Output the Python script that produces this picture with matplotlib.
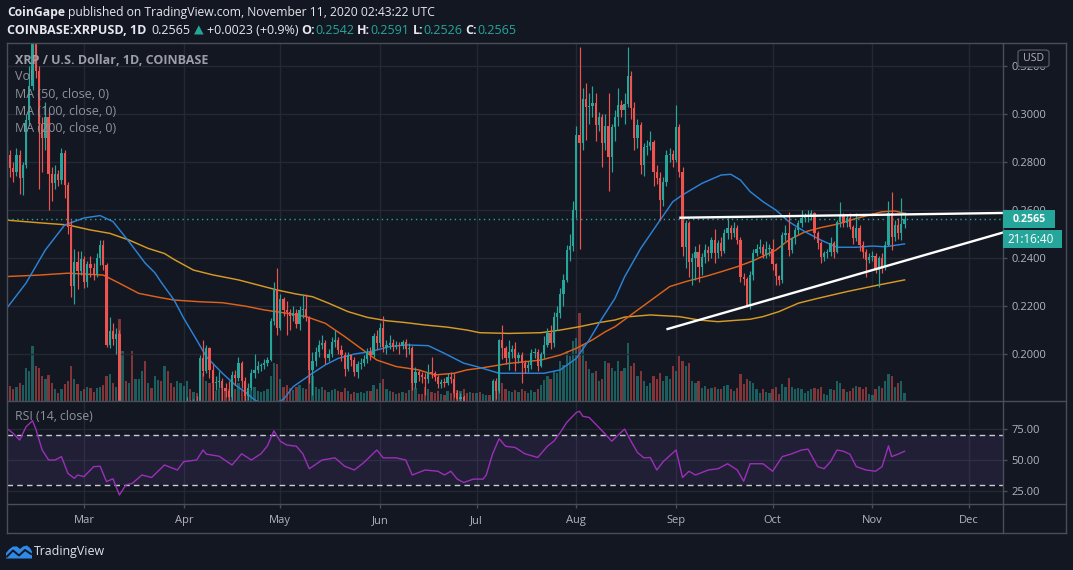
import matplotlib
matplotlib.use("Agg")
import matplotlib.pyplot as plt
import matplotlib.dates as mdates
from matplotlib.patches import Rectangle, FancyBboxPatch, Polygon
from matplotlib.lines import Line2D
from matplotlib.ticker import FuncFormatter
import numpy as np
import pandas as pd

# ---------------- data ----------------
start_date = "2020-02-06"
first_open = 0.2720
close = [
 0.2830, 0.2775, 0.2760, 0.2830, 0.2735, 0.2790, 0.2975, 0.3120, 0.3320, 0.3180,
 0.2960, 0.2900, 0.2990, 0.2750, 0.2715, 0.2750, 0.2725, 0.2840, 0.2705, 0.2530,
 0.2285, 0.2385, 0.2345, 0.2395, 0.2300, 0.2375, 0.2360, 0.2335, 0.2400, 0.2455,
 0.2370, 0.2040, 0.2095, 0.2065, 0.2085, 0.1460, 0.1600, 0.1500, 0.1530, 0.1420,
 0.1460, 0.1480, 0.1610, 0.1550, 0.1600, 0.1520, 0.1570, 0.1630, 0.1610, 0.1630,
 0.1560, 0.1520, 0.1460, 0.1620, 0.1730, 0.1750, 0.1780, 0.1775, 0.1795, 0.1770,
 0.1985, 0.1930, 0.2025, 0.1935, 0.1880, 0.1885, 0.1890, 0.1860, 0.1845, 0.1820,
 0.1915, 0.1900, 0.1965, 0.1890, 0.1825, 0.1860, 0.1920, 0.1935, 0.1950, 0.1955,
 0.1965, 0.1975, 0.2140, 0.2270, 0.2110, 0.2230, 0.2185, 0.2175, 0.2160, 0.2170,
 0.2125, 0.2185, 0.2190, 0.2157, 0.1935, 0.1970, 0.2010, 0.2040, 0.2045, 0.1985,
 0.2000, 0.2053, 0.2060, 0.2018, 0.1995, 0.1940, 0.1995, 0.1975, 0.1925, 0.1960,
 0.1965, 0.1980, 0.2010, 0.1995, 0.2075, 0.2045, 0.2110, 0.2030, 0.2040, 0.2048,
 0.2030, 0.2040, 0.2035, 0.2052, 0.2020, 0.2025, 0.1880, 0.1925, 0.1915, 0.1905,
 0.1895, 0.1928, 0.1920, 0.1905, 0.1875, 0.1886, 0.1880, 0.1905, 0.1895, 0.1840,
 0.1815, 0.1820, 0.1780, 0.1760, 0.1775, 0.1755, 0.1770, 0.1735, 0.1745, 0.1760,
 0.1750, 0.1890, 0.1845, 0.2060, 0.2025, 0.1985, 0.2010, 0.2020, 0.1985, 0.1998,
 0.1963, 0.1942, 0.1955, 0.2005, 0.2010, 0.1950, 0.2000, 0.2040, 0.2088, 0.2045,
 0.2155, 0.2170, 0.2250, 0.2310, 0.2435, 0.2450, 0.2600, 0.2915, 0.2880, 0.3063,
 0.3032, 0.3035, 0.3046, 0.2955, 0.2990, 0.2880, 0.2950, 0.2823, 0.2948, 0.2990,
 0.3040, 0.3020, 0.3045, 0.3160, 0.3025, 0.2900, 0.2955, 0.2790, 0.2865, 0.2870,
 0.2885, 0.2760, 0.2735, 0.2645, 0.2720, 0.2830, 0.2835, 0.2810, 0.2948, 0.2760,
 0.2448, 0.2545, 0.2386, 0.2400, 0.2427, 0.2365, 0.2406, 0.2434, 0.2420, 0.2476,
 0.2420, 0.2462, 0.2430, 0.2504, 0.2525, 0.2504, 0.2525, 0.2476, 0.2323, 0.2315,
 0.2205, 0.2330, 0.2420, 0.2440, 0.2445, 0.2415, 0.2440, 0.2440, 0.2375, 0.2325,
 0.2308, 0.2497, 0.2505, 0.2435, 0.2483, 0.2518, 0.2545, 0.2566, 0.2573, 0.2580,
 0.2587, 0.2504, 0.2462, 0.2407, 0.2420, 0.2427, 0.2462, 0.2427, 0.2552, 0.2580,
 0.2545, 0.2566, 0.2531, 0.2483, 0.2525, 0.2455, 0.2427, 0.2393, 0.2407, 0.2410,
 0.2351, 0.2400, 0.2365, 0.2455, 0.2587, 0.2490, 0.2539, 0.2504, 0.2542, 0.2565]
high = [
 0.2880, 0.2850, 0.2800, 0.2860, 0.2850, 0.2800, 0.3000, 0.3200, 0.3380, 0.3460,
 0.3200, 0.2990, 0.3050, 0.3010, 0.2780, 0.2790, 0.2770, 0.2860, 0.2850, 0.2720,
 0.2560, 0.2440, 0.2430, 0.2430, 0.2410, 0.2390, 0.2410, 0.2380, 0.2420, 0.2475,
 0.2475, 0.2380, 0.2155, 0.2130, 0.2110, 0.2100, 0.1680, 0.1620, 0.1600, 0.1540,
 0.1500, 0.1520, 0.1660, 0.1700, 0.1640, 0.1620, 0.1600, 0.1680, 0.1680, 0.1650,
 0.1650, 0.1570, 0.1530, 0.1640, 0.1760, 0.1780, 0.1820, 0.1810, 0.1815, 0.1825,
 0.1995, 0.2060, 0.2040, 0.2030, 0.1960, 0.1910, 0.1930, 0.1900, 0.1880, 0.1890,
 0.1930, 0.1935, 0.1990, 0.1970, 0.1905, 0.1880, 0.1940, 0.2000, 0.1970, 0.1965,
 0.1980, 0.1990, 0.2150, 0.2300, 0.2360, 0.2250, 0.2240, 0.2220, 0.2190, 0.2200,
 0.2190, 0.2200, 0.2250, 0.2250, 0.2160, 0.2010, 0.2030, 0.2060, 0.2080, 0.2060,
 0.2020, 0.2070, 0.2100, 0.2070, 0.2040, 0.2010, 0.2010, 0.2000, 0.1990, 0.1970,
 0.1985, 0.1995, 0.2025, 0.2030, 0.2090, 0.2100, 0.2130, 0.2160, 0.2060, 0.2080,
 0.2065, 0.2055, 0.2050, 0.2060, 0.2065, 0.2045, 0.2035, 0.1945, 0.1935, 0.1925,
 0.1920, 0.1960, 0.1990, 0.1930, 0.1915, 0.1895, 0.1900, 0.1920, 0.1925, 0.1920,
 0.1850, 0.1840, 0.1830, 0.1790, 0.1790, 0.1790, 0.1790, 0.1780, 0.1760, 0.1775,
 0.1770, 0.1895, 0.1900, 0.2065, 0.2120, 0.2035, 0.2060, 0.2040, 0.2050, 0.2010,
 0.2010, 0.1975, 0.1970, 0.2020, 0.2025, 0.2020, 0.2010, 0.2075, 0.2110, 0.2120,
 0.2175, 0.2200, 0.2275, 0.2335, 0.2455, 0.2500, 0.2640, 0.2950, 0.3282, 0.3110,
 0.3130, 0.3090, 0.3120, 0.3090, 0.3010, 0.3000, 0.3000, 0.3090, 0.2960, 0.3020,
 0.3110, 0.3060, 0.3090, 0.3280, 0.3180, 0.3050, 0.2980, 0.2970, 0.2880, 0.2895,
 0.2930, 0.2895, 0.2790, 0.2760, 0.2740, 0.2850, 0.2860, 0.2850, 0.3040, 0.2960,
 0.2780, 0.2560, 0.2555, 0.2420, 0.2450, 0.2460, 0.2420, 0.2460, 0.2450, 0.2490,
 0.2520, 0.2475, 0.2490, 0.2520, 0.2570, 0.2540, 0.2550, 0.2540, 0.2490, 0.2340,
 0.2320, 0.2345, 0.2440, 0.2460, 0.2480, 0.2460, 0.2470, 0.2460, 0.2480, 0.2380,
 0.2330, 0.2510, 0.2540, 0.2595, 0.2490, 0.2530, 0.2560, 0.2600, 0.2590, 0.2600,
 0.2600, 0.2595, 0.2515, 0.2470, 0.2430, 0.2440, 0.2490, 0.2470, 0.2560, 0.2636,
 0.2590, 0.2580, 0.2590, 0.2540, 0.2590, 0.2540, 0.2470, 0.2440, 0.2420, 0.2430,
 0.2420, 0.2410, 0.2420, 0.2470, 0.2640, 0.2678, 0.2560, 0.2570, 0.2651, 0.2591]
low = [
 0.2690, 0.2740, 0.2720, 0.2745, 0.2670, 0.2665, 0.2775, 0.2950, 0.3100, 0.3150,
 0.2690, 0.2760, 0.2850, 0.2600, 0.2640, 0.2690, 0.2700, 0.2710, 0.2650, 0.2500,
 0.2240, 0.2210, 0.2270, 0.2330, 0.2275, 0.2280, 0.2320, 0.2310, 0.2320, 0.2370,
 0.2350, 0.2030, 0.2025, 0.2040, 0.2000, 0.1380, 0.1150, 0.1480, 0.1470, 0.1370,
 0.1400, 0.1430, 0.1470, 0.1500, 0.1520, 0.1490, 0.1500, 0.1560, 0.1580, 0.1590,
 0.1550, 0.1480, 0.1440, 0.1450, 0.1610, 0.1680, 0.1730, 0.1740, 0.1750, 0.1750,
 0.1760, 0.1910, 0.1920, 0.1900, 0.1810, 0.1850, 0.1860, 0.1800, 0.1820, 0.1800,
 0.1790, 0.1870, 0.1890, 0.1860, 0.1800, 0.1810, 0.1850, 0.1900, 0.1920, 0.1930,
 0.1940, 0.1950, 0.1970, 0.2120, 0.2080, 0.2100, 0.2160, 0.2080, 0.2100, 0.2140,
 0.2110, 0.2100, 0.2150, 0.2140, 0.1880, 0.1830, 0.1950, 0.1990, 0.2020, 0.1960,
 0.1970, 0.1990, 0.2030, 0.2000, 0.1970, 0.1910, 0.1930, 0.1950, 0.1910, 0.1900,
 0.1940, 0.1950, 0.1965, 0.1975, 0.1990, 0.2020, 0.2030, 0.2010, 0.2000, 0.2020,
 0.2015, 0.2020, 0.2000, 0.2020, 0.1990, 0.2000, 0.1850, 0.1860, 0.1890, 0.1880,
 0.1830, 0.1880, 0.1900, 0.1890, 0.1860, 0.1860, 0.1865, 0.1870, 0.1880, 0.1820,
 0.1780, 0.1790, 0.1760, 0.1740, 0.1750, 0.1740, 0.1740, 0.1720, 0.1725, 0.1735,
 0.1730, 0.1745, 0.1815, 0.1840, 0.1980, 0.1960, 0.1935, 0.1985, 0.1930, 0.1965,
 0.1880, 0.1920, 0.1925, 0.1940, 0.1985, 0.1930, 0.1945, 0.1985, 0.2030, 0.2020,
 0.2030, 0.2100, 0.2150, 0.2200, 0.2300, 0.2390, 0.2430, 0.2570, 0.2440, 0.2850,
 0.2895, 0.2960, 0.2990, 0.2890, 0.2930, 0.2780, 0.2850, 0.2680, 0.2760, 0.2890,
 0.2950, 0.2990, 0.2960, 0.3030, 0.2980, 0.2850, 0.2860, 0.2750, 0.2745, 0.2830,
 0.2850, 0.2700, 0.2710, 0.2560, 0.2620, 0.2700, 0.2800, 0.2780, 0.2800, 0.2740,
 0.2410, 0.2360, 0.2320, 0.2290, 0.2310, 0.2300, 0.2330, 0.2380, 0.2390, 0.2400,
 0.2380, 0.2400, 0.2410, 0.2420, 0.2480, 0.2480, 0.2490, 0.2460, 0.2300, 0.2290,
 0.2195, 0.2190, 0.2310, 0.2410, 0.2420, 0.2400, 0.2400, 0.2410, 0.2350, 0.2290,
 0.2290, 0.2295, 0.2470, 0.2410, 0.2420, 0.2460, 0.2500, 0.2530, 0.2550, 0.2550,
 0.2560, 0.2480, 0.2440, 0.2380, 0.2390, 0.2400, 0.2410, 0.2400, 0.2420, 0.2530,
 0.2530, 0.2530, 0.2520, 0.2460, 0.2470, 0.2430, 0.2400, 0.2320, 0.2380, 0.2390,
 0.2340, 0.2282, 0.2340, 0.2350, 0.2450, 0.2435, 0.2470, 0.2480, 0.2478, 0.2526]
volume_m = [
 22, 15, 12, 14, 18, 16, 33, 30, 55, 35,
 33, 25, 22, 26, 18, 12, 8, 12, 17, 20,
 35, 22, 17, 10, 12, 14, 13, 9, 13, 14,
 16, 25, 27, 18, 14, 82, 50, 20, 18, 50,
 22, 22, 30, 40, 18, 13, 25, 21, 20, 35,
 30, 18, 14, 20, 18, 15, 20, 12, 9, 8,
 40, 28, 20, 18, 22, 10, 12, 15, 10, 12,
 22, 12, 18, 12, 15, 10, 12, 14, 10, 9,
 10, 12, 25, 38, 37, 22, 14, 16, 13, 11,
 14, 16, 13, 12, 35, 25, 14, 12, 14, 11,
 9, 11, 12, 10, 9, 13, 10, 7, 9, 8,
 9, 8, 10, 10, 16, 12, 18, 22, 12, 10,
 9, 7, 8, 9, 8, 11, 22, 13, 7, 7,
 14, 12, 9, 8, 10, 7, 6, 10, 8, 12,
 11, 10, 12, 8, 9, 8, 8, 9, 7, 6,
 6, 20, 12, 21, 18, 12, 10, 9, 11, 9,
 12, 10, 8, 11, 9, 12, 16, 21, 25, 22,
 30, 28, 40, 36, 50, 45, 60, 63, 88, 57,
 40, 32, 28, 30, 20, 22, 40, 38, 33, 30,
 40, 30, 33, 58, 35, 38, 25, 30, 20, 15,
 18, 25, 22, 28, 20, 25, 22, 35, 30, 45,
 40, 35, 38, 20, 18, 20, 13, 15, 12, 13,
 14, 12, 12, 15, 16, 12, 10, 13, 27, 17,
 22, 20, 18, 12, 8, 12, 9, 8, 12, 14,
 7, 17, 14, 23, 14, 12, 13, 12, 8, 10,
 12, 13, 12, 14, 7, 6, 12, 11, 20, 18,
 12, 9, 10, 13, 15, 14, 12, 14, 7, 6,
 12, 15, 13, 20, 27, 25, 14, 18, 20, 8]

ma50_dates = ["02-06","02-12","02-18","02-24","03-01","03-06","03-10","03-15","03-20","03-23",
              "03-25","03-29","04-01","04-05","04-08","04-13","04-17","04-20","04-23","04-26",
              "04-29","05-02","05-05","05-11","05-15","05-19","05-24","05-29","06-04","06-09",
              "06-16","06-21","06-27","07-01","07-08","07-15","07-22","07-27","08-01","08-05",
              "08-09","08-13","08-16","08-21","08-26","08-31","09-03","09-09","09-15","09-18",
              "09-21","09-24","09-28","10-02","10-06","10-11","10-16","10-21","10-27","11-01",
              "11-05","11-11"]
ma50_vals = [0.2192,0.2297,0.2435,0.2539,0.2568,0.2578,0.2553,0.2469,0.2380,0.2340,
             0.2300,0.2226,0.2150,0.2060,0.1990,0.1921,0.1872,0.1844,0.1810,0.1792,
             0.1795,0.1812,0.1865,0.1921,0.1956,0.1983,0.2001,0.2011,0.2032,0.2039,
             0.2036,0.2004,0.1963,0.1949,0.1921,0.1921,0.1921,0.1935,0.1983,0.2060,
             0.2150,0.2233,0.2323,0.2441,0.2539,0.2636,0.2664,0.2712,0.2747,0.2750,
             0.2726,0.2678,0.2636,0.2601,0.2553,0.2511,0.2476,0.2446,0.2446,0.2451,
             0.2448,0.2460]
ma100_dates = ["02-06","02-16","02-25","03-07","03-12","03-18","03-24","03-29","04-06","04-13",
               "04-20","04-26","05-03","05-09","05-15","05-21","05-26","05-31","06-06","06-13",
               "06-18","06-24","06-28","07-02","07-11","07-21","07-27","08-01","08-06","08-10",
               "08-13","08-20","08-30","09-04","09-10","09-15","09-20","09-25","10-02","10-06",
               "10-11","10-16","10-21","10-27","11-04","11-08","11-11"]
ma100_vals = [0.2324,0.2330,0.2338,0.2330,0.2296,0.2254,0.2238,0.2226,0.2219,0.2215,
              0.2201,0.2185,0.2171,0.2157,0.2129,0.2074,0.2025,0.1976,0.1949,0.1935,
              0.1914,0.1921,0.1935,0.1942,0.1962,0.1976,0.1997,0.2025,0.2060,0.2094,
              0.2115,0.2184,0.2282,0.2303,0.2324,0.2344,0.2365,0.2390,0.2434,0.2476,
              0.2510,0.2528,0.2542,0.2566,0.2594,0.2597,0.2587]
ma200_dates = ["02-06","02-16","02-25","03-03","03-09","03-15","03-21","03-26","03-29","04-04",
               "04-10","04-18","04-24","04-30","05-06","05-11","05-16","05-22","05-28","06-03",
               "06-09","06-15","06-22","06-28","07-02","07-11","07-21","07-27","08-02","08-08",
               "08-13","08-16","08-24","09-02","09-08","09-14","09-24","09-28","10-03","10-09",
               "10-15","10-24","11-03","11-11"]
ma200_vals = [0.2559,0.2548,0.2539,0.2518,0.2504,0.2476,0.2441,0.2420,0.2395,0.2351,
              0.2331,0.2310,0.2289,0.2268,0.2251,0.2240,0.2213,0.2178,0.2154,0.2140,
              0.2132,0.2122,0.2113,0.2101,0.2090,0.2087,0.2090,0.2101,0.2115,0.2132,
              0.2143,0.2155,0.2164,0.2157,0.2143,0.2136,0.2146,0.2157,0.2178,0.2213,
              0.2233,0.2261,0.2289,0.2310]

rsi_dates = ["02-06","02-08","02-10","02-12","02-14","02-15","02-17","02-19","02-21","02-23",
             "02-25","02-27","02-28","03-01","03-04","03-06","03-08","03-10","03-12","03-14",
             "03-16","03-19","03-22","03-26","03-30","04-01","04-05","04-07","04-08","04-12",
             "04-16","04-19","04-22","04-25","04-27","04-29","05-01","05-03","05-06","05-08",
             "05-10","05-14","05-18","05-21","05-24","05-27","05-31","06-02","06-06","06-09",
             "06-11","06-15","06-19","06-21","06-23","06-25","06-27","06-30","07-03","07-04",
             "07-06","07-08","07-10","07-13","07-16","07-20","07-23","07-25","07-27","07-29",
             "08-01","08-02","08-03","08-05","08-07","08-10","08-12","08-14","08-16","08-18",
             "08-20","08-22","08-24","08-26","08-28","09-01","09-03","09-05","09-07","09-11",
             "09-14","09-17","09-20","09-22","09-24","09-28","10-01","10-04","10-07","10-10",
             "10-12","10-15","10-17","10-19","10-21","10-23","10-25","10-27","10-30","11-02",
             "11-04","11-06","11-07","11-09","11-11"]
rsi_vals = [75.3,71.3,66.0,76.6,81.4,75.0,58.0,50.0,50.0,52.7,
            39.3,35.3,38.0,36.7,44.7,45.0,32.7,35.0,22.0,30.0,
            31.3,38.0,36.0,46.0,42.0,48.7,50.0,58.0,54.7,53.0,
            46.0,55.0,50.0,55.0,61.3,73.3,65.0,62.0,61.0,55.0,
            43.0,50.0,51.7,45.0,42.0,48.0,58.0,51.7,51.7,50.0,
            38.0,42.0,41.0,38.0,41.0,34.7,32.0,34.7,34.7,38.0,
            55.0,67.0,61.0,60.0,55.0,52.0,61.0,65.0,72.0,80.0,
            88.0,89.0,85.0,84.0,78.7,70.7,65.0,70.0,74.7,65.0,
            56.0,51.7,52.0,42.0,48.7,58.0,36.0,41.0,38.0,42.0,
            43.0,47.0,42.0,33.0,47.0,47.0,41.0,52.7,55.0,58.0,
            58.7,44.7,43.0,48.7,58.0,57.0,54.7,44.7,42.0,41.0,
            44.7,61.3,52.7,54.7,57.0]

resist_dates = ["2020-09-02", "2020-12-12"]
resist_prices = [0.2569, 0.2589]
support_dates = ["2020-08-29", "2020-12-12"]
support_prices = [0.2104, 0.2509]

price_ticks = [0.20, 0.22, 0.24, 0.26, 0.28, 0.30, 0.32]
rsi_ticks = [25, 50, 75]
month_starts = ["2020-03-01", "2020-04-01", "2020-05-01", "2020-06-01", "2020-07-01",
                "2020-08-01", "2020-09-01", "2020-10-01", "2020-11-01", "2020-12-01"]
month_labels = ["Mar", "Apr", "May", "Jun", "Jul", "Aug", "Sep", "Oct", "Nov", "Dec"]
last_price = 0.2565
countdown = "21:16:40"

# ---------------- styling / layout ----------------
BG = "#131722"
UP = "#26a69a"
DN = "#ef5350"
GRID = "#242834"
FRAME = "#4a4e5a"
TXT = "#b2b5be"
LEG = "#8f929b"
WHITE = "#e6e8ee"
FAM = ["Open Sans", "DejaVu Sans"]
W, H = 1073, 570
L, R = 7.0, 1002.7
PT, PB, RB = 43.0, 401.0, 504.0
FR, FB = 1066.0, 532.7


def fx(px):
    return px / W


def fy(py):
    return 1 - py / H


fig = plt.figure(figsize=(W / 100, H / 100), dpi=100, facecolor=BG)
renderer = fig.canvas.get_renderer()

rect_p = [fx(L), fy(PB), fx(R) - fx(L), fy(PT) - fy(PB)]
ax_v = fig.add_axes(rect_p, zorder=0)
ax_p = fig.add_axes(rect_p, zorder=1, sharex=ax_v)
ax_r = fig.add_axes([fx(L), fy(RB), fx(R) - fx(L), fy(PB) - fy(RB)], zorder=1, sharex=ax_v)
ax_v.set_facecolor(BG)
ax_p.patch.set_visible(False)
ax_r.set_facecolor(BG)
for a in (ax_v, ax_p, ax_r):
    for s in a.spines.values():
        s.set_visible(False)

n = min(len(close), len(high), len(low), len(volume_m))
dates = pd.date_range(start_date, periods=n, freq="D")
d = mdates.date2num(dates)
c = np.array(close[:n])
hi = np.array(high[:n])
lo = np.array(low[:n])
vol = np.array(volume_m[:n], dtype=float)
o = np.r_[first_open, c[:-1]]
up = c >= o
col = np.where(up, UP, DN)


def dn(lst):
    return mdates.date2num(pd.to_datetime(["2020-" + s for s in lst]))


day0 = mdates.date2num(pd.Timestamp("2020-01-01"))
xlim = (day0 + 36.07, day0 + 345.5)
ax_v.set_xlim(*xlim)
ax_p.set_ylim(0.18054, 0.32971)
ax_r.set_ylim(14.8, 97.2)
ax_v.set_ylim(0, vol.max() / 0.246)

month_x = mdates.date2num(pd.to_datetime(month_starts))

# grids
for mx in month_x:
    ax_v.axvline(mx, color=GRID, lw=1, zorder=0)
    ax_r.axvline(mx, color=GRID, lw=1, zorder=0)
for pt in price_ticks:
    ax_p.axhline(pt, color=GRID, lw=1, zorder=0)
for rt in rsi_ticks:
    ax_r.axhline(rt, color=GRID, lw=1, zorder=0)

# volume
ax_v.bar(d, vol, width=0.7, color=col, alpha=0.5, lw=0, zorder=1)

# moving averages
ax_p.plot(dn(ma200_dates), ma200_vals, color="#d69a26", lw=1.05, zorder=2)
ax_p.plot(dn(ma100_dates), ma100_vals, color="#dc621c", lw=1.05, zorder=2)
ax_p.plot(dn(ma50_dates), ma50_vals, color="#2b82d6", lw=1.05, zorder=2)

# last price dotted line
ax_p.axhline(last_price, color=UP, lw=1, ls=(0, (1, 2.5)), zorder=3)

# candles
wick_lo = np.minimum(lo, np.minimum(o, c))
wick_hi = np.maximum(hi, np.maximum(o, c))
ax_p.vlines(d, wick_lo, wick_hi, colors=col, lw=0.85, zorder=4)
body = np.maximum(np.abs(c - o), 0.00025)
ax_p.bar(d, body, bottom=np.minimum(o, c), width=0.7, color=col, lw=0, zorder=5)

# trend lines
ax_p.plot(mdates.date2num(pd.to_datetime(resist_dates)), resist_prices, color="white", lw=1.7,
          zorder=6, solid_capstyle="butt")
ax_p.plot(mdates.date2num(pd.to_datetime(support_dates)), support_prices, color="white", lw=1.7,
          zorder=6, solid_capstyle="butt")

# RSI
ax_r.axhspan(30, 70, facecolor="#7e57c2", alpha=0.13, lw=0, zorder=1)
ax_r.axhline(70, color="#c9cad2", lw=1, ls=(0, (4, 3)), zorder=2)
ax_r.axhline(30, color="#c9cad2", lw=1, ls=(0, (4, 3)), zorder=2)
ax_r.plot(dn(rsi_dates), rsi_vals, color="#9c2fb8", lw=1.0, zorder=3)


# ---------------- text helpers ----------------
def text_w(s, size, weight="normal"):
    t = fig.text(0, 0, s, fontsize=size, fontweight=weight, family=FAM)
    w = t.get_window_extent(renderer).width
    t.remove()
    return w


def fit_size(s, target, weight="normal", base=10.0):
    return base * target / text_w(s, base, weight)


def seq(pieces, x, yc, size, draw=True):
    sp = text_w("a a", size) - text_w("aa", size)
    x0 = x
    for s, colr, wt, gap in pieces:
        x += gap * sp
        t = fig.text(fx(x), fy(yc), s, color=colr, fontsize=size, fontweight=wt,
                     family=FAM, va="center", ha="left")
        x += t.get_window_extent(renderer).width
        if not draw:
            t.remove()
    return x - x0


def seq_fit(pieces, x, yc, target):
    w10 = seq(pieces, x, yc, 10.0, draw=False)
    seq(pieces, x, yc, 10.0 * target / w10)


# ticks
tick_size = fit_size("0.3000", 35)
ax_p.yaxis.tick_right()
ax_p.set_yticks(price_ticks)
ax_p.yaxis.set_major_formatter(FuncFormatter(lambda v, p: f"{v:.4f}"))
ax_p.tick_params(axis="y", length=3, width=1, color=FRAME, labelcolor=TXT, labelsize=tick_size, pad=3.5)
ax_p.tick_params(axis="x", length=0, labelbottom=False)
ax_v.tick_params(axis="both", length=0, labelbottom=False, labelleft=False)
ax_v.set_yticks([])
ax_r.yaxis.tick_right()
ax_r.set_yticks(rsi_ticks)
ax_r.yaxis.set_major_formatter(FuncFormatter(lambda v, p: f"{v:.2f}"))
ax_r.tick_params(axis="y", length=3, width=1, color=FRAME, labelcolor=TXT, labelsize=tick_size, pad=3.5)
ax_r.set_xticks(month_x)
ax_r.set_xticklabels(month_labels)
ax_r.tick_params(axis="x", length=3, width=1, color=FRAME, labelcolor=TXT, labelsize=tick_size, pad=5)
for lab in ax_r.get_xticklabels() + ax_r.get_yticklabels() + ax_p.get_yticklabels():
    lab.set_family(FAM)
ax_v.set_xlim(*xlim)


# frame lines
def fline(x1, y1, x2, y2, colr=FRAME, lw=1.0):
    fig.add_artist(Line2D([fx(x1), fx(x2)], [fy(y1), fy(y2)], color=colr, lw=lw,
                          transform=fig.transFigure, zorder=8))


fline(L, PT, FR, PT)
fline(L, FB, FR, FB)
fline(L, PT, L, FB)
fline(FR, PT, FR, FB)
fline(R, PT, R, FB)
fline(L, PB, FR, PB)
fline(L, RB, FR, RB)

# header
seq_fit([("CoinGape", WHITE, "bold", 0),
         ("published on TradingView.com, November 11, 2020 02:43:22 UTC", WHITE, "normal", 1)],
        7, 12.5, 428)
seq_fit([("COINBASE:XRPUSD, 1D", WHITE, "bold", 0), ("0.2565", WHITE, "normal", 1.6),
         ("▲", UP, "normal", 1), ("+0.0023 (+0.9%)", WHITE, "normal", 1),
         ("O:", WHITE, "bold", 1), ("0.2542", UP, "normal", 0),
         ("H:", WHITE, "bold", 1), ("0.2591", UP, "normal", 0),
         ("L:", WHITE, "bold", 1), ("0.2526", UP, "normal", 0),
         ("C:", WHITE, "bold", 1), ("0.2565", UP, "normal", 0)],
        7, 30.5, 508)

# legend inside the price pane
leg_size = fit_size("MA (200, close, 0)", 101)
fig.text(fx(15), fy(61), "XRP / U.S. Dollar, 1D, COINBASE", color="#9b9ea7", fontsize=leg_size,
         fontweight="bold", family=FAM, va="center", ha="left", zorder=9)
for yy, s in [(77, "Vol"), (94.5, "MA (50, close, 0)"), (111.5, "MA (100, close, 0)"),
              (128, "MA (200, close, 0)")]:
    fig.text(fx(15), fy(yy), s, color=LEG, fontsize=leg_size, family=FAM, va="center",
             ha="left", zorder=9)
fig.text(fx(15), fy(417), "RSI (14, close)", color=LEG, fontsize=fit_size("RSI (14, close)", 77),
         family=FAM, va="center", ha="left", zorder=9)

# price labels on the axis
fig.add_artist(Rectangle((fx(R), fy(228.3)), fx(1055) - fx(R), fy(210) - fy(228.3),
                         transform=fig.transFigure, facecolor=UP, edgecolor="none", zorder=10))
fig.text(fx(1029), fy(219.3), f"{last_price:.4f}", color="white", fontweight="bold",
         fontsize=fit_size("0.2565", 33, "bold"), family=FAM, ha="center", va="center", zorder=11)
fig.add_artist(Rectangle((fx(R), fy(248.3)), fx(1062) - fx(R), fy(230) - fy(248.3),
                         transform=fig.transFigure, facecolor=UP, edgecolor="none", zorder=10))
fig.text(fx(1031), fy(239.3), countdown, color="white", fontsize=fit_size("21:16:40", 46),
         family=FAM, ha="center", va="center", zorder=11)

# USD box
fig.add_artist(FancyBboxPatch((fx(1018), fy(67)), fx(1049) - fx(1018), fy(50) - fy(67),
                              boxstyle="round,pad=0,rounding_size=0.004",
                              transform=fig.transFigure, facecolor=BG, edgecolor="#50535e",
                              lw=1, zorder=10))
fig.text(fx(1033.5), fy(58.5), "USD", color=TXT, fontsize=fit_size("USD", 21), family=FAM,
         ha="center", va="center", zorder=11)

# TradingView logo
logo = [(6, 558.5), (6, 553), (9, 549.5), (13, 546.5), (17, 546.5), (20, 549), (23, 546.5),
        (27, 545.5), (30, 548), (32, 551.5), (32, 558.5)]
fig.add_artist(Polygon([(fx(a), fy(b)) for a, b in logo], closed=True, transform=fig.transFigure,
                       facecolor="#2e8ae6", edgecolor="none", zorder=10))
zig = [(7, 556.5), (13, 550.5), (19, 555.5), (25, 550), (31, 554)]
fig.add_artist(Line2D([fx(a) for a, b in zig], [fy(b) for a, b in zig], color=BG, lw=1.4,
                      transform=fig.transFigure, zorder=11))
fig.text(fx(33.7), fy(551.3), "TradingView", color="#e0e3eb", fontsize=fit_size("TradingView", 71),
         family=FAM, ha="left", va="center", zorder=11)

fig.savefig("out.png", dpi=100, facecolor=BG)
